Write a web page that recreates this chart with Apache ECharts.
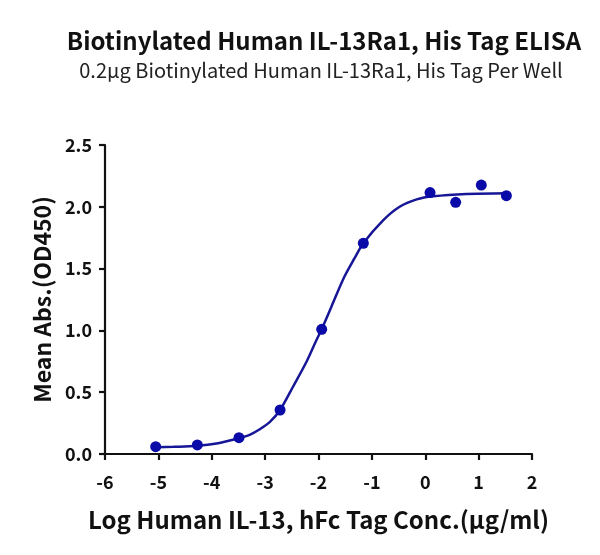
<!DOCTYPE html>
<html>
<head>
<meta charset="utf-8">
<script src="https://cdn.jsdelivr.net/npm/echarts@6/dist/echarts.min.js"></script>
<style>html,body{margin:0;padding:0;background:#fff;}#c{width:600px;height:555px;}</style>
</head>
<body>
<div id="c"></div>
<script>
var titleText = 'Biotinylated Human IL-13Ra1, His Tag ELISA';
var subtitleText = '0.2\u03bcg Biotinylated Human IL-13Ra1, His Tag Per Well';
var xName = 'Log Human IL-13, hFc Tag Conc.(\u03bcg/ml)';
var yName = 'Mean Abs.(OD450)';
var pointX = [-5.05, -4.27, -3.49, -2.72, -1.94, -1.16, 0.09, 0.57, 1.05, 1.52];
var pointY = [0.059, 0.073, 0.132, 0.356, 1.009, 1.705, 2.115, 2.036, 2.176, 2.09];
var curveX = [-5.05, -4.72, -4.27, -3.91, -3.49, -3.29, -3.10, -2.91, -2.72, -2.47, -2.22, -2.04, -1.94, -1.76, -1.52, -1.33, -1.16, -0.79, -0.48, -0.16, 0.15, 0.77, 1.52];
var curveY = [0.054, 0.058, 0.066, 0.085, 0.128, 0.155, 0.20, 0.26, 0.356, 0.55, 0.75, 0.92, 1.01, 1.19, 1.43, 1.58, 1.705, 1.89, 2.00, 2.06, 2.085, 2.104, 2.11];
var xTicks = [-6, 2, 1];
var yTicks = [0, 2.5, 0.5];

var font = '"Noto Sans CJK SC", "Noto Sans", sans-serif';
var chart = echarts.init(document.getElementById('c'));
chart.setOption({
  animation: false,
  title: [
    {text: titleText, left: 319, top: 24, textAlign: 'center',
     textStyle: {fontFamily: font, fontSize: 24, fontWeight: 'bold', color: '#111'}},
    {text: subtitleText, left: 316, top: 55, textAlign: 'center',
     textStyle: {fontFamily: font, fontSize: 20, fontWeight: 'normal', color: '#222'}}
  ],
  grid: {left: 105, right: 68, top: 145, bottom: 101},
  xAxis: {
    type: 'value', min: xTicks[0], max: xTicks[1], interval: xTicks[2],
    name: xName, nameLocation: 'middle', nameGap: 54,
    nameTextStyle: {fontFamily: font, fontSize: 24, fontWeight: 'bold', color: '#111'},
    axisLine: {onZero: false, lineStyle: {color: '#111', width: 2.2}},
    axisTick: {show: true, length: 6, lineStyle: {color: '#111', width: 2.2}},
    axisLabel: {fontFamily: font, fontSize: 18, fontWeight: 'bold', color: '#111', margin: 19},
    splitLine: {show: false}
  },
  yAxis: {
    type: 'value', min: yTicks[0], max: yTicks[1], interval: yTicks[2],
    name: yName, nameLocation: 'middle', nameGap: 50,
    nameTextStyle: {fontFamily: font, fontSize: 23, fontWeight: 'bold', color: '#111'},
    axisLine: {show: true, onZero: false, lineStyle: {color: '#111', width: 2.2}},
    axisTick: {show: true, length: 6, lineStyle: {color: '#111', width: 2.2}},
    axisLabel: {fontFamily: font, fontSize: 18, fontWeight: 'bold', color: '#111', margin: 13,
      formatter: function (v) { return v.toFixed(1); }},
    splitLine: {show: false}
  },
  series: [
    {type: 'line', data: curveX.map(function (x, i) { return [x, curveY[i]]; }),
     smooth: 0.3, showSymbol: false, symbol: 'none',
     lineStyle: {color: '#161696', width: 2.5}, z: 2},
    {type: 'scatter', data: pointX.map(function (x, i) { return [x, pointY[i]]; }),
     symbolSize: 11, itemStyle: {color: '#0a0aa8', opacity: 1}, z: 3}
  ]
});
</script>
</body>
</html>
